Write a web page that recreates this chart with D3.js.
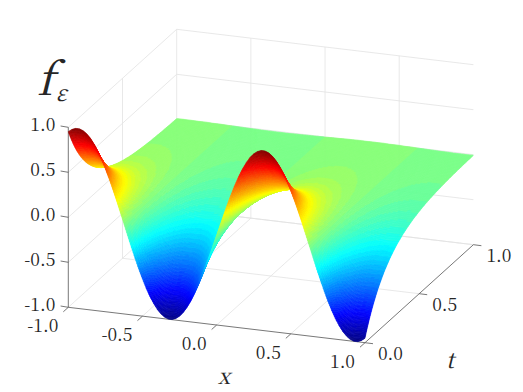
<!DOCTYPE html>
<html>
<head>
<meta charset="utf-8">
<script src="https://cdn.jsdelivr.net/npm/d3@7"></script>
<style>
  html, body { margin: 0; padding: 0; background: #fff; }
  svg { display: block; }
</style>
</head>
<body>
<div id="my_dataviz"></div>
<script>
// Tick values and labels
var xTicks = [-1, -0.5, 0, 0.5, 1];
var xTickLabels = ["-1.0", "-0.5", "0.0", "0.5", "1.0"];
var tTicks = [0, 0.5, 1];
var tTickLabels = ["0.0", "0.5", "1.0"];
var zTicks = [-1, -0.5, 0, 0.5, 1];
var zTickLabels = ["-1.0", "-0.5", "0.0", "0.5", "1.0"];

// Surface height along the front edge (t = 0), x = -1 to 1 every 0.025
var frontEdge = [
    0.951, 0.982, 0.998, 0.998, 0.982, 0.951, 0.905, 0.844, 0.771, 0.685,
    0.588, 0.482, 0.368, 0.249, 0.125, 0, -0.125, -0.249, -0.368, -0.482,
    -0.588, -0.685, -0.771, -0.844, -0.905, -0.951, -0.982, -0.998, -0.998, -0.982,
    -0.951, -0.905, -0.844, -0.771, -0.685, -0.588, -0.482, -0.368, -0.249, -0.125,
    0, 0.125, 0.249, 0.368, 0.482, 0.588, 0.685, 0.771, 0.844, 0.905,
    0.951, 0.982, 0.998, 0.998, 0.982, 0.951, 0.905, 0.844, 0.771, 0.685,
    0.588, 0.482, 0.368, 0.249, 0.125, 0, -0.125, -0.249, -0.368, -0.482,
    -0.588, -0.685, -0.771, -0.844, -0.905, -0.951, -0.982, -0.998, -0.998, -0.982,
    -0.951
];
// How much of the front edge height is left at each t
var tValues = [0, 0.02, 0.04, 0.06, 0.08, 0.1, 0.12, 0.14, 0.16, 0.18, 0.2, 0.22, 0.24, 0.26, 0.28, 0.3,
    0.35, 0.4, 0.45, 0.5, 0.55, 0.6, 0.65, 0.7, 0.75, 0.8, 0.85, 0.9, 0.95, 1];
var tDecay = [1, 0.908, 0.825, 0.75, 0.681, 0.619, 0.562, 0.511, 0.464, 0.421, 0.383, 0.348, 0.316, 0.287, 0.261, 0.237,
    0.186, 0.147, 0.115, 0.091, 0.071, 0.056, 0.044, 0.035, 0.027, 0.021, 0.017, 0.013, 0.01, 0.008];

var width = 523, height = 392;
var svg = d3.select("#my_dataviz").append("svg")
    .attr("width", width)
    .attr("height", height)
    .style("font-family", "'Noto Serif CJK SC', 'Liberation Serif', serif")
    .attr("fill", "#262626");

// Orthographic view: each data axis adds to both screen directions
var originX = 68.3, originY = 307.3;
var xToSx = d3.scaleLinear().domain([-1, 1]).range([0, 296.7]);
var xToSy = d3.scaleLinear().domain([-1, 1]).range([0, 35.4]);
var tToSx = d3.scaleLinear().domain([0, 1]).range([0, 108.4]);
var tToSy = d3.scaleLinear().domain([0, 1]).range([0, -98]);
var zToSy = d3.scaleLinear().domain([-1, 1]).range([0, -180]);

function project(x, t, z) {
    return [originX + xToSx(x) + tToSx(t), originY + xToSy(x) + tToSy(t) + zToSy(z)];
}

var line = d3.line();

function draw3d(a, b, color, w) {
    svg.append("path")
        .attr("d", line([project(a[0], a[1], a[2]), project(b[0], b[1], b[2])]))
        .attr("fill", "none")
        .attr("stroke", color)
        .attr("stroke-width", w);
}

// Grid on the left wall, back wall and floor
var gridColor = "#e2e2e2";
zTicks.forEach(function(z) {
    draw3d([-1, 0, z], [-1, 1, z], gridColor, 0.8);
    draw3d([-1, 1, z], [1, 1, z], gridColor, 0.8);
});
tTicks.filter(function(t) { return t > 0; }).forEach(function(t) {
    draw3d([-1, t, -1], [-1, t, 1], gridColor, 0.8);
    draw3d([-1, t, -1], [1, t, -1], gridColor, 0.8);
});
xTicks.filter(function(x) { return x > -1 && x < 1; }).forEach(function(x) {
    draw3d([x, 1, -1], [x, 1, 1], gridColor, 0.8);
    draw3d([x, 0, -1], [x, 1, -1], gridColor, 0.8);
});

// Axis lines and tick marks
var axisColor = "#555";
draw3d([-1, 0, -1], [1, 0, -1], axisColor, 0.8);
draw3d([1, 0, -1], [1, 1, -1], axisColor, 0.8);
draw3d([-1, 0, -1], [-1, 0, 1], axisColor, 0.8);

function tick(p, dx, dy) {
    svg.append("path")
        .attr("d", line([p, [p[0] + dx, p[1] + dy]]))
        .attr("fill", "none")
        .attr("stroke", axisColor)
        .attr("stroke-width", 0.8);
}

xTicks.forEach(function(x, i) {
    var p = project(x, 0, -1);
    tick(p, -5, 4.5);
    svg.append("text")
        .attr("x", p[0] - 10)
        .attr("y", p[1] + 19)
        .attr("dy", ".35em")
        .attr("text-anchor", "end")
        .style("font-size", "17.5px")
        .text(xTickLabels[i]);
});
tTicks.forEach(function(t, i) {
    var p = project(1, t, -1);
    tick(p, 8, 1);
    svg.append("text")
        .attr("x", p[0] + 13)
        .attr("y", p[1] + 11.5)
        .attr("dy", ".35em")
        .style("font-size", "17.5px")
        .text(tTickLabels[i]);
});
zTicks.forEach(function(z, i) {
    var p = project(-1, 0, z);
    tick(p, -7.7, -1.3);
    svg.append("text")
        .attr("x", p[0] - 13)
        .attr("y", p[1] - 2)
        .attr("dy", ".35em")
        .attr("text-anchor", "end")
        .style("font-size", "17.5px")
        .text(zTickLabels[i]);
});

// Jet colormap in 64 steps
var jet = d3.scaleLinear()
    .domain([0, 0.125, 0.375, 0.625, 0.875, 1])
    .range(["#000080", "#0000ff", "#00ffff", "#ffff00", "#ff0000", "#800000"]);
var color = d3.scaleQuantize()
    .domain([-1, 1])
    .range(d3.range(64).map(function(i) { return jet((i + 0.5) / 64); }));

// Cut every data cell into smaller pieces so the colour bands come out clean
var subX = 4, subT = 4;
var edgeAt = d3.piecewise(d3.interpolateNumber, frontEdge);
var decayAt = d3.piecewise(d3.interpolateNumber, tDecay);
var tAt = d3.piecewise(d3.interpolateNumber, tValues);
var nx = (frontEdge.length - 1) * subX;
var nt = (tValues.length - 1) * subT;

var surface = svg.append("g");
// Back to front: far t first, then left to right
for (var j = nt - 1; j >= 0; j--) {
    var t0 = tAt(j / nt), t1 = tAt((j + 1) / nt);
    var d0 = decayAt(j / nt), d1 = decayAt((j + 1) / nt);
    for (var i = 0; i < nx; i++) {
        var x0 = -1 + 2 * i / nx, x1 = -1 + 2 * (i + 1) / nx;
        var e0 = edgeAt(i / nx), e1 = edgeAt((i + 1) / nx);
        var mean = (e0 + e1) * (d0 + d1) / 4;
        var c = color(mean);
        surface.append("path")
            .attr("d", line([
                project(x0, t0, e0 * d0),
                project(x1, t0, e1 * d0),
                project(x1, t1, e1 * d1),
                project(x0, t1, e0 * d1)
            ]) + "Z")
            .attr("fill", c)
            .attr("stroke", c)
            .attr("stroke-width", 0.5);
    }
}

// Axis titles
svg.append("text")
    .attr("x", 224)
    .attr("y", 384)
    .attr("text-anchor", "middle")
    .style("font-size", "22px")
    .style("font-style", "italic")
    .text("x");
svg.append("text")
    .attr("x", 450)
    .attr("y", 368)
    .attr("text-anchor", "middle")
    .style("font-size", "22px")
    .style("font-style", "italic")
    .text("t");
svg.append("text")
    .attr("x", 37)
    .attr("y", 95)
    .style("font-size", "44px")
    .style("font-style", "italic")
    .text("f");
svg.append("text")
    .attr("x", 56)
    .attr("y", 101)
    .style("font-size", "22px")
    .style("font-style", "italic")
    .text("ε");
</script>
</body>
</html>
